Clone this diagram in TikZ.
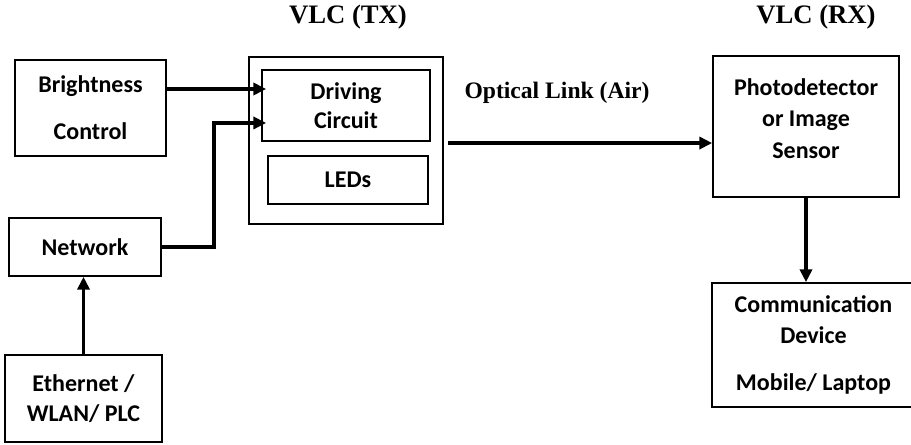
\documentclass[tikz,border=0pt]{standalone}
\usepackage{fontspec}
\setmainfont{Liberation Serif}
\newfontfamily\calibri{Carlito}
\usetikzlibrary{arrows.meta}

\begin{document}
\begin{tikzpicture}[
    x=0.75pt, y=-0.75pt,
    blk/.style={rectangle, draw, line width=1.3pt, fill=white, align=center, inner sep=0pt,
        font=\calibri\bfseries\fontsize{18}{22}\selectfont},
    ttl/.style={font=\bfseries\fontsize{20}{24}\selectfont},
    arrow/.style={line width=2.6pt, -{Triangle[length=9.5pt, width=9pt]}}
]
    \useasboundingbox (0,0) rectangle (911,445);

    % transmitter side
    \node (tx)     [blk, minimum width=145.5pt, minimum height=125.25pt] at (346,140.5) {};
    \node (drv)    [blk, minimum width=126pt, minimum height=53.25pt, text depth=-4pt] at (346,105.5) {Driving\\Circuit};
    \node (leds)   [blk, minimum width=120pt, minimum height=36pt] at (348,180) {LEDs};
    \node (bright) [blk, minimum width=113.25pt, minimum height=72pt] at (90.5,108) {Brightness\\[13.5pt]Control};
    \node (net)    [blk, minimum width=114pt, minimum height=43.5pt] at (85,247) {Network};
    \node (eth)    [blk, minimum width=117.75pt, minimum height=65.25pt] at (83.5,398.5) {Ethernet /\\WLAN/ PLC};

    % receiver side
    \node (pd)     [blk, minimum width=139.5pt, minimum height=105.75pt, text depth=12pt] at (806,126.5) {Photodetector\\[1.5pt]or Image\\[1.5pt]Sensor};
    \node (comm)   [blk, minimum width=152.25pt, minimum height=93pt] at (813.5,345) {Communication\\[1pt]Device\\[13.5pt]Mobile/ Laptop};

    % titles
    \node (txt) [ttl] at (348,17) {VLC (TX)};
    \node (rxt) [ttl] at (816,17) {VLC (RX)};
    \node (air) [font=\bfseries\fontsize{17.7}{21}\selectfont] at (557,93) {Optical Link (Air)};

    \coordinate (bin) at ([yshift=14.25pt]bright.east);
    \coordinate (nin) at ([yshift=-13.1pt]drv.west);
    \coordinate (olink) at ([xshift=3pt,yshift=-1.9pt]tx.east);

    \draw [arrow] (bin) -- ([xshift=3.75pt]bin -| drv.west);
    \draw [arrow] (net.east) -- ++(52,0) |- ([xshift=3.75pt]nin);
    \draw [arrow] (eth.north) -- (eth.north |- net.south);
    \draw [arrow] (olink) -- (olink -| pd.west);
    \draw [arrow] (pd.south) -- (pd.south |- comm.north);
\end{tikzpicture}
\end{document}
